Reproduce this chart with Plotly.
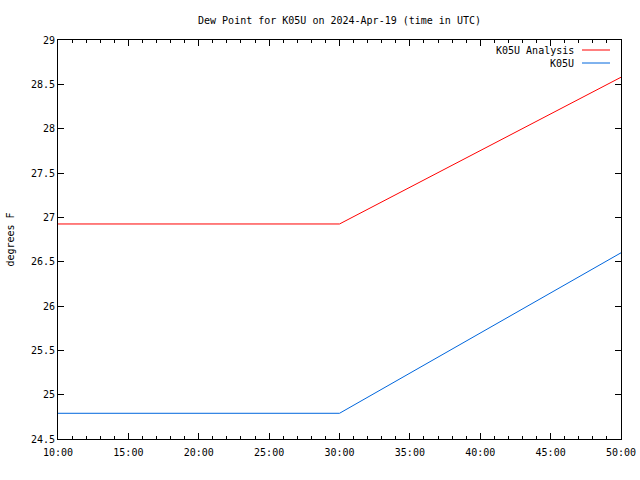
import plotly.graph_objects as go

# Data (time in minutes)
times = [10, 30, 50]
analysis = [26.925, 26.925, 28.58]
obs = [24.79, 24.79, 26.6]
x_ticks = [10, 15, 20, 25, 30, 35, 40, 45, 50]
x_tick_labels = ["10:00", "15:00", "20:00", "25:00", "30:00", "35:00", "40:00", "45:00", "50:00"]
y_ticks = [24.5, 25, 25.5, 26, 26.5, 27, 27.5, 28, 28.5, 29]
y_tick_labels = ["24.5", "25", "25.5", "26", "26.5", "27", "27.5", "28", "28.5", "29"]

FONT = "DejaVu Sans Mono"
FS = 10
fig = go.Figure()
fig.add_trace(go.Scatter(x=times, y=analysis, mode="lines", name="K05U Analysis",
                         line=dict(color="#ff0000", width=1), showlegend=False))
fig.add_trace(go.Scatter(x=times, y=obs, mode="lines", name="K05U",
                         line=dict(color="#0066dd", width=1), showlegend=False))

axis_common = dict(showgrid=False, zeroline=False, showline=True, linecolor="black",
                   linewidth=1, mirror="allticks", ticks="inside", tickcolor="black",
                   ticklen=6, automargin=False,
                   tickfont=dict(family=FONT, size=FS, color="black"))

fig.update_xaxes(range=[10, 50], tickvals=x_ticks, ticktext=x_tick_labels,
                 minor=dict(dtick=1, ticks="inside", ticklen=3, tickcolor="black"),
                 ticklabelstandoff=4,
                 **axis_common)
fig.update_yaxes(range=[24.5, 29], tickvals=y_ticks, ticktext=y_tick_labels,
                 title=dict(text="degrees F", font=dict(family=FONT, size=FS, color="black"), standoff=14),
                 **axis_common)

# Legend drawn gnuplot-style (text right-aligned, sample to the right)
legend_items = [("K05U Analysis", "#ff0000"), ("K05U", "#0066dd")]
for i, (name, col) in enumerate(legend_items):
    ypx = 50 + i * 13
    yp = 1 - (ypx - 40) / 399
    fig.add_annotation(xref="paper", yref="paper", x=(576 - 58) / 563, y=yp, text=name,
                       showarrow=False, xanchor="right", yanchor="middle",
                       font=dict(family=FONT, size=FS, color="black"))
    fig.add_shape(type="line", xref="paper", yref="paper", x0=(582 - 58) / 563, x1=(610 - 58) / 563,
                  y0=yp, y1=yp, line=dict(color=col, width=1))

fig.update_layout(
    width=640, height=480,
    margin=dict(l=58, r=19, t=40, b=41),
    paper_bgcolor="white", plot_bgcolor="white",
    title=dict(text="Dew Point for K05U on 2024-Apr-19 (time in UTC)", x=339.5 / 640, xanchor="center",
               y=1 - 20 / 480, yanchor="middle", font=dict(family=FONT, size=FS, color="black")),
)
fig.write_html("out.html")
